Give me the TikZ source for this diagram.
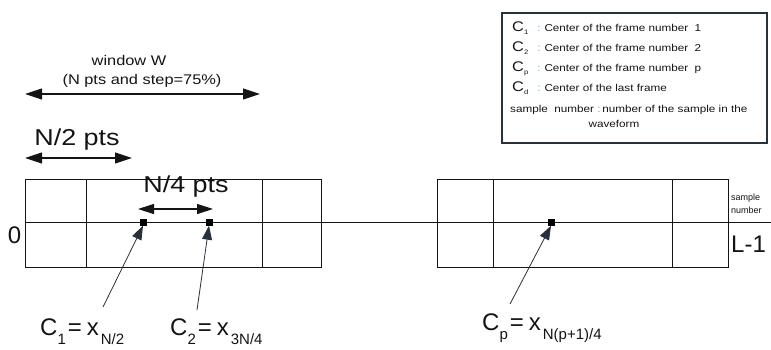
\documentclass[tikz,border=0pt]{standalone}
\usepackage{fontspec}
\setmainfont{Liberation Sans}
\newfontfamily\widefont{Liberation Sans}[FakeStretch=1.17]
\usetikzlibrary{arrows.meta}
\definecolor{lnblack}{RGB}{20,20,20}
\definecolor{ptrslate}{RGB}{40,48,60}
\definecolor{legframe}{RGB}{40,50,60}
\definecolor{coloncyan}{RGB}{110,170,200}
\newcommand{\subx}[2]{\raisebox{#1}{\fontsize{15}{15}\selectfont #2}}
\newcommand{\cxlabel}[3]{C\subx{#3}{#1}\hspace{2pt}=\hspace{5pt}x\hspace{2pt}\subx{#3}{#2}}
\newcommand{\legc}[1]{{\fontsize{14}{14}\selectfont C}\raisebox{-3pt}{\fontsize{6.5}{7}\selectfont #1}\hspace{9pt}\textcolor{coloncyan}{:}\hspace{4pt}}
\begin{document}
\begin{tikzpicture}[
  x=1pt,y=-1pt,
  every node/.style={inner sep=0pt,text=lnblack},
  framebox/.style={draw=lnblack,line width=0.9pt},
  ctrdot/.style={fill=black,minimum size=7pt},
  dimarrow/.style={{Triangle[length=17pt,width=11pt]}-{Triangle[length=17pt,width=11pt]},
                   line width=1.1pt,lnblack},
  ptr/.style={-{Triangle[length=14pt,width=10pt]},line width=0.8pt,ptrslate},
  bigtxt/.style={font=\widefont\fontsize{23}{26}\selectfont},
  midtxt/.style={font=\widefont\fontsize{14}{16}\selectfont},
  legtxt/.style={font=\widefont\fontsize{10}{12}\selectfont,anchor=base west},
  eqtxt/.style={font=\fontsize{24}{26}\selectfont,anchor=base west},
]
  \useasboundingbox (0,0) rectangle (771,349);

  % Window W
  \coordinate (wl) at (25,94);
  \coordinate (wr) at (260,94);
  \draw[dimarrow] (wl) -- (wr);
  \node[midtxt,anchor=base] (win) at (129,65) {window W};
  \node[midtxt,anchor=base] (winpts) at (142,84) {(N pts and step=75\%)};

  % N/2 pts
  \coordinate (hl) at (25,158);
  \coordinate (hr) at (132,158);
  \draw[dimarrow] (hl) -- (hr);
  \node[bigtxt,anchor=base] (half) at (77,145) {N/2 pts};

  % Sample axis
  \coordinate (ax0) at (25,222);
  \coordinate (ax1) at (771,222);
  \draw[lnblack,line width=0.9pt] (ax0) -- (ax1);
  \node[eqtxt,anchor=base] (zero) at (14.5,243) {0};
  \node[eqtxt] (last) at (731,252) {L-1};
  \node[font=\fontsize{9}{10}\selectfont,anchor=base west] (smp) at (731,200) {sample};
  \node[font=\fontsize{9}{10}\selectfont,anchor=base west] (num) at (731,213) {number};

  % First frame
  \draw[framebox] (25,179) rectangle (321,267);
  \draw[framebox] (86,179) -- (86,267);
  \draw[framebox] (262,179) -- (262,267);

  % Frame p
  \draw[framebox] (437,179) rectangle (728,267);
  \draw[framebox] (493,179) -- (493,267);
  \draw[framebox] (672,179) -- (672,267);

  % N/4 pts
  \coordinate (ql) at (138,209);
  \coordinate (qr) at (213,209);
  \draw[dimarrow,{Triangle[length=16pt,width=10pt]}-{Triangle[length=16pt,width=10pt]}] (ql) -- (qr);
  \node[bigtxt,anchor=base] (quart) at (186,192) {N/4 pts};

  % Centres
  \node[ctrdot] (c1) at (143,222) {};
  \node[ctrdot] (c2) at (209,222) {};
  \node[ctrdot] (cp) at (551,222) {};

  \node[eqtxt] (l1) at (40,335) {\cxlabel{1}{N/2}{-9pt}};
  \node[eqtxt] (l2) at (170,335) {\cxlabel{2}{3N/4}{-9pt}};
  \node[eqtxt] (lp) at (482,330) {\cxlabel{p}{N(p+1)/4}{-9pt}};

  \coordinate (s1) at ([xshift=63pt,yshift=11pt]l1.north west);
  \coordinate (s2) at ([xshift=27pt,yshift=8pt]l2.north west);
  \coordinate (sp) at ([xshift=28pt,yshift=9pt]lp.north west);
  \draw[ptr] (s1) -- (c1.south);
  \draw[ptr] (s2) -- (c2.south);
  \draw[ptr] (sp) -- (cp.south);

  % Legend
  \draw[legframe,line width=1.4pt] (502,13) rectangle (767,143);
  \node[legtxt] (lg1) at (512,31) {\legc{1}Center of the frame number\ \ 1};
  \node[legtxt] (lg2) at (512,51) {\legc{2}Center of the frame number\ \ 2};
  \node[legtxt] (lg3) at (512,71) {\legc{p}Center of the frame number\ \ p};
  \node[legtxt] (lg4) at (512,91) {\legc{d}Center of the last frame};
  \node[legtxt] (lg5) at (510,112) {sample\ \ number\ \textcolor{coloncyan}{:}\,number of the sample in the};
  \node[legtxt,anchor=base] (lg6) at (614,127) {waveform};
\end{tikzpicture}
\end{document}
